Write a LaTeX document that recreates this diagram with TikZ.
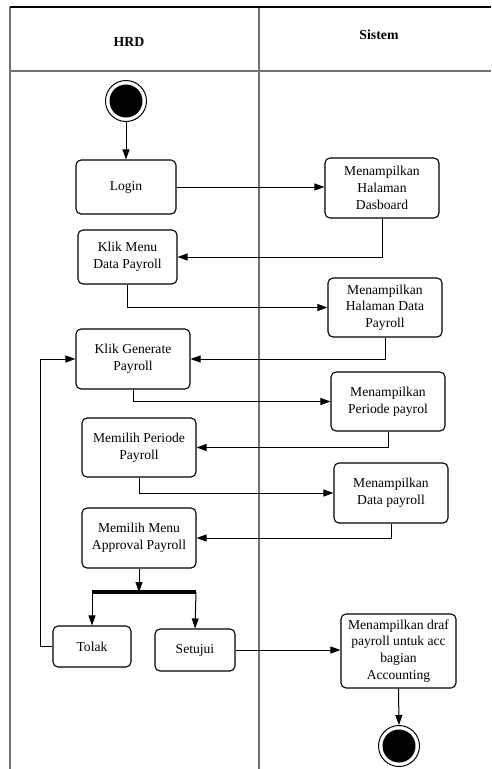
\documentclass[tikz,border=0pt]{standalone}
\usepackage{fontspec}
\setmainfont{Liberation Serif}
\usetikzlibrary{arrows.meta,calc}
\begin{document}
\begin{tikzpicture}[x=1pt,y=-1pt,
  act/.style={draw, line width=1.1pt, rounded corners=5pt, align=center, inner sep=0pt,
    font=\fontsize{13.6}{16.7}\selectfont},
  conn/.style={line width=1pt, -{Triangle[length=10pt,width=7pt]}},
  lane/.style={draw=black!55, line width=1.8pt},
  hdr/.style={font=\fontsize{13.8}{16}\selectfont\bfseries},
  startnode/.style={circle, fill=black, minimum size=33pt, inner sep=0pt},
  ring/.style={circle, draw, line width=1pt, minimum size=41pt, inner sep=0pt}
]
\useasboundingbox (0,0) rectangle (491,769);
% swimlanes
\draw[lane] (10,7) -- (10,769);
\draw[lane] (259,7) -- (259,769);
\draw[lane] (10,71) -- (491,71);
\draw[line width=1.5pt] (10,7) -- (491,7);
\node[hdr] (hrd) at (129,42) {HRD};
\node[hdr] (sis) at (379,35) {Sistem};
% start
\node[ring] (startring) at (126,101) {};
\node[startnode] (start) at (126,101) {};
% activities
\node[act, minimum width=100pt, minimum height=54pt] (login) at (126,187) {Login};
\node[act, minimum width=114pt, minimum height=60pt] (dash) at (382,188) {Menampilkan\\Halaman\\Dasboard};
\node[act, minimum width=99pt, minimum height=54pt] (klik) at (127.5,257) {Klik Menu\\Data Payroll};
\node[act, minimum width=114pt, minimum height=59pt] (hdp) at (385,307.5) {Menampilkan\\Halaman Data\\Payroll};
\node[act, minimum width=114pt, minimum height=60pt] (gen) at (133,359) {Klik Generate\\Payroll};
\node[act, minimum width=114pt, minimum height=59pt] (per) at (388,401.5) {Menampilkan\\Periode payrol};
\node[act, minimum width=114pt, minimum height=59pt] (mper) at (139,447.5) {Memilih Periode\\Payroll};
\node[act, minimum width=114pt, minimum height=60pt] (dp) at (391,493) {Menampilkan\\Data payroll};
\node[act, minimum width=114pt, minimum height=60pt] (appr) at (139,538) {Memilih Menu\\Approval Payroll};
\node[act, minimum width=78pt, minimum height=41pt] (tolak) at (92,646.5) {Tolak};
\node[act, minimum width=80pt, minimum height=42pt] (setuju) at (195,650) {Setujui};
\node[act, minimum width=115pt, minimum height=74pt] (draf) at (398.5,651) {Menampilkan draf\\payroll untuk acc\\bagian\\Accounting};
% fork bar
\coordinate (barL) at (92,592);
\coordinate (barR) at (196,592);
\coordinate (barM) at (139,592);
\draw[line width=3.5pt] (barL) -- (barR);
% end
\node[ring] (endring) at (399,746) {};
\node[startnode] (end) at (399,746) {};
% connectors
\draw[conn] (startring.south) -- (login.north);
\draw[conn] (login.east) -- (login.east -| dash.west);
\draw[conn] (dash.south) |- (klik.east);
\draw[conn] (klik.south) |- (hdp.west);
\draw[conn] (hdp.south) |- (gen.east);
\draw[conn] (gen.south) |- (per.west);
\draw[conn] (per.south) |- (mper.east);
\draw[conn] (mper.south) |- (dp.west);
\draw[conn] (dp.south) |- (appr.east);
\draw[conn] (appr.south) -- (barM);
\draw[conn] (barL) -- (tolak.north);
\draw[conn] (barR) -- (setuju.north);
\coordinate (loopc) at (40,646.5);
\draw[conn] (tolak.west) -- (loopc) |- (gen.west);
\draw[conn] (setuju.east) -- (setuju.east -| draf.west);
\draw[conn] (draf.south) -- (endring.north);
\end{tikzpicture}
\end{document}
